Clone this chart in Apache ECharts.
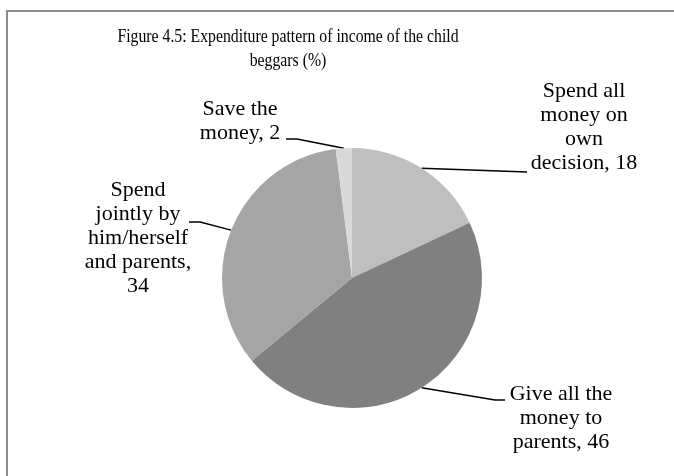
<!DOCTYPE html>
<html>
<head>
<meta charset="utf-8">
<title>Expenditure pattern of income of the child beggars</title>
<script src="https://cdn.jsdelivr.net/npm/echarts@6/dist/echarts.min.js"></script>
<style>
  html, body { margin: 0; padding: 0; background: #ffffff; }
  #chart { width: 674px; height: 476px; }
</style>
</head>
<body>
<div id="chart"></div>
<script>
// Share of income by how the child beggars spend it (%)
const categories = [
  'Spend all\nmoney on\nown\ndecision',
  'Give all the\nmoney to\nparents',
  'Spend\njointly by\nhim/herself\nand parents',
  'Save the\nmoney'
];
const values = [18, 46, 34, 2];
const sliceColors = ['#bfbfbf', '#808080', '#a5a5a5', '#d9d9d9'];
// text placed between the name and the value of each label
const valueSeparators = [' ', ' ', '\n', ' '];

const titleLines = [
  'Figure 4.5: Expenditure pattern of income of the child',
  'beggars (%)'
];

// label centres and leader-line bends, per slice
const labelCentres = [[584, 127], [561, 418], [138, 238], [240, 121]];
const leaderBends = [
  [[527, 172], [527, 172]],
  [[495, 400], [505, 400]],
  [[200, 222], [189, 222]],
  [[297, 139], [286, 139]]
];

const serif = '"Liberation Serif", "Times New Roman", serif';

const chart = echarts.init(document.getElementById('chart'), null, { renderer: 'canvas' });

chart.setOption({
  backgroundColor: '#ffffff',
  animation: false,
  graphic: [
    {
      // chart frame
      type: 'rect',
      shape: { x: 7, y: 11, width: 720, height: 520 },
      style: { fill: 'none', stroke: '#8c8c8c', lineWidth: 2 },
      silent: true
    },
    {
      // narrow-set two-line heading
      type: 'text',
      x: 288,
      y: 49,
      scaleX: 0.83,
      silent: true,
      style: {
        text: titleLines.join('\n'),
        font: 'normal 19px ' + serif,
        lineHeight: 24,
        align: 'center',
        verticalAlign: 'middle',
        fill: '#000000'
      }
    }
  ],
  series: [{
    type: 'pie',
    center: [352, 278],
    radius: 130,
    startAngle: 90,
    clockwise: true,
    avoidLabelOverlap: false,
    data: categories.map((name, i) => ({
      name: name,
      value: values[i],
      itemStyle: { color: sliceColors[i] }
    })),
    itemStyle: { borderWidth: 0 },
    emphasis: { disabled: true },
    label: {
      show: true,
      position: 'outside',
      formatter: p => p.name + ',' + valueSeparators[p.dataIndex] + p.value,
      fontFamily: serif,
      fontSize: 22,
      lineHeight: 24,
      color: '#000000',
      align: 'center'
    },
    labelLine: {
      show: true,
      length: 20,
      length2: 20,
      smooth: false,
      lineStyle: { color: '#000000', width: 1.5 }
    },
    labelLayout: params => {
      const i = params.dataIndex;
      const start = params.labelLinePoints ? params.labelLinePoints[0] : null;
      const layout = {
        x: labelCentres[i][0],
        y: labelCentres[i][1],
        align: 'center',
        verticalAlign: 'middle'
      };
      if (start) {
        layout.labelLinePoints = [start, leaderBends[i][0], leaderBends[i][1]];
      }
      return layout;
    }
  }]
});
</script>
</body>
</html>
